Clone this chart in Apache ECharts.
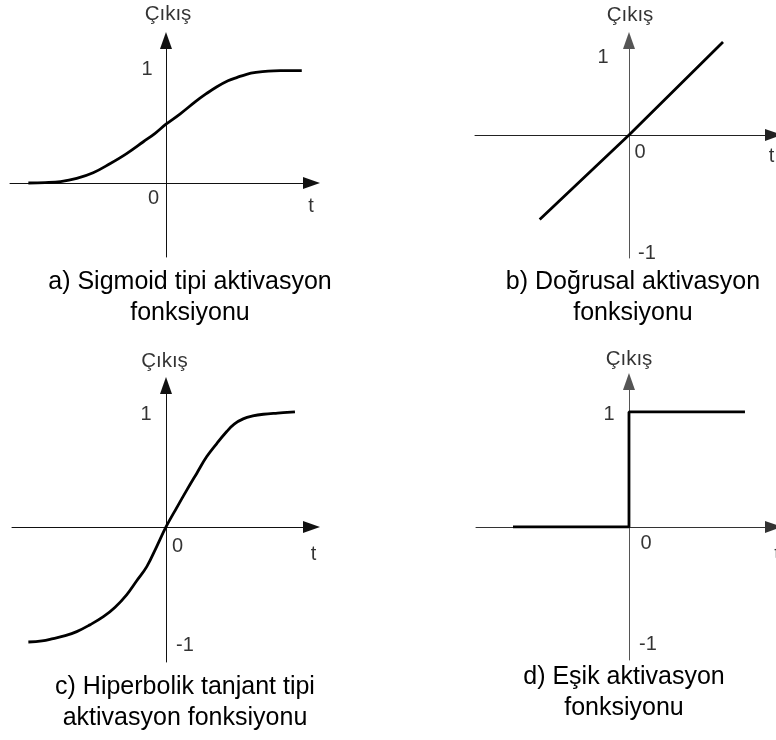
<!DOCTYPE html>
<html>
<head>
<meta charset="utf-8">
<script src="https://cdn.jsdelivr.net/npm/echarts@6/dist/echarts.min.js"></script>
<style>
  html, body { margin: 0; padding: 0; background: #fff; }
  #chart { width: 776px; height: 740px; }
</style>
</head>
<body>
<div id="chart"></div>
<script>
// a) sigmoid
const sigmoidT = [-4.44, -3.9, -3.4, -2.88, -2.35, -1.81, -1.27, -0.73, -0.35, 0, 0.45, 0.95, 1.3, 1.63, 2.0, 2.3, 2.6, 2.9, 3.3, 3.8, 4.38];
const sigmoidY = [0, 0.003, 0.012, 0.04, 0.09, 0.17, 0.26, 0.365, 0.44, 0.52, 0.61, 0.72, 0.79, 0.85, 0.905, 0.935, 0.962, 0.978, 0.99, 0.994, 0.995];
// b) doğrusal
const linearT = [-0.95, 0, 1];
const linearY = [-0.91, 0, 1];
// c) tanh
const tanhT = [-4.44, -4.0, -3.64, -3.25, -2.88, -2.45, -2.02, -1.65, -1.27, -0.95, -0.62, -0.3, 0, 0.33, 0.67, 1.0, 1.31, 1.65, 1.96, 2.2, 2.49, 2.8, 3.14, 3.6, 4.16];
const tanhY = [-1.0, -0.99, -0.97, -0.945, -0.91, -0.85, -0.78, -0.7, -0.59, -0.47, -0.345, -0.17, 0, 0.16, 0.32, 0.47, 0.61, 0.73, 0.83, 0.895, 0.94, 0.965, 0.98, 0.99, 1.0];
// d) eşik
const stepT = [-1, 0, 0, 1];
const stepY = [0, 0, 1, 1];

const captions = [
  'a) Sigmoid tipi aktivasyon\nfonksiyonu',
  'b) Doğrusal aktivasyon\nfonksiyonu',
  'c) Hiperbolik tanjant tipi\naktivasyon fonksiyonu',
  'd) Eşik aktivasyon\nfonksiyonu'
];
const yName = 'Çıkış';
const xName = 't';
// tick texts with the value they mark on the y axis
const yTicks = [
  [['1', 1], ['0', 0]],
  [['1', 1], ['0', 0], ['-1', -1]],
  [['1', 1], ['0', 0], ['-1', -1]],
  [['1', 1], ['0', 0], ['-1', -1]]
];

const font = "'Liberation Sans', Arial, sans-serif";

// layout of each panel (pixels) + label offsets
const panels = [
  { grid: { left: 10, top: 40.5, width: 301.5, height: 216.5 }, x: [-5.032, 4.694], y: [-0.655, 1.261],
    xColor: '#111', yColor: '#111', cap: [190, 266.5],
    off: { '1': [-19, -1], '0': [-12.5, 15.5], y: [2, -26.5], x: [-0.5, 23] } },
  { grid: { left: 475, top: 40.5, width: 298.5, height: 217.5 }, x: [-1.638, 1.537], y: [-1.323, 1.016],
    xColor: '#222', yColor: '#555', cap: [633, 266.5],
    off: { '1': [-26, 15.5], '0': [11, 18], '-1': [18, 25.5], y: [1, -25.5], x: [-2, 22] } },
  { grid: { left: 12, top: 385.5, width: 299.5, height: 276.5 }, x: [-4.968, 4.694], y: [-1.174, 1.23],
    xColor: '#111', yColor: '#111', cap: [185, 671.5],
    off: { '1': [-20, 2.5], '0': [11.5, 19.5], '-1': [19, 3], y: [-1.5, -24.5], x: [2, 28] } },
  { grid: { left: 476, top: 381.5, width: 297.5, height: 278.5 }, x: [-1.319, 1.246], y: [-1.157, 1.265],
    xColor: '#333', yColor: '#555', cap: [624, 661.5],
    off: { '1': [-20, 3], '0': [17, 16.5], '-1': [19, 3], y: [0, -22], x: [3.5, 28] } }
];

const curves = [
  sigmoidT.map((t, i) => [t, sigmoidY[i]]),
  linearT.map((t, i) => [t, linearY[i]]),
  tanhT.map((t, i) => [t, tanhY[i]]),
  stepT.map((t, i) => [t, stepY[i]])
];

const chart = echarts.init(document.getElementById('chart'));

const series = [];
panels.forEach((p, i) => {
  series.push({
    type: 'line',
    xAxisIndex: i,
    yAxisIndex: i,
    data: curves[i],
    smooth: (i === 0 || i === 2) ? 0.4 : false,
    showSymbol: false,
    silent: true,
    lineStyle: { color: '#000', width: 2.8 },
    z: 3
  });
  // text labels anchored on the axes
  const items = yTicks[i].map(([txt, v]) => ({
    value: [0, v],
    label: { formatter: txt, offset: p.off[txt] }
  }));
  items.push({ value: [0, p.y[1]], label: { formatter: yName, offset: p.off.y, fontSize: 20.5 } });
  items.push({ value: [p.x[1], 0], label: { formatter: xName, offset: p.off.x } });
  series.push({
    type: 'scatter',
    xAxisIndex: i,
    yAxisIndex: i,
    symbolSize: 1,
    silent: true,
    itemStyle: { color: 'rgba(0,0,0,0)' },
    label: {
      show: true,
      position: 'inside',
      color: '#000',
      fontSize: 20,
      fontFamily: font
    },
    data: items
  });
});

const option = {
  backgroundColor: '#fff',
  animation: false,
  title: panels.map((p, i) => ({
    text: captions[i],
    left: p.cap[0],
    top: p.cap[1],
    textAlign: 'center',
    padding: 0,
    textStyle: { fontSize: 25, fontWeight: 'normal', color: '#000', lineHeight: 31, fontFamily: font }
  })),
  grid: panels.map(p => p.grid),
  xAxis: panels.map((p, i) => ({
    gridIndex: i,
    type: 'value',
    min: p.x[0],
    max: p.x[1],
    axisLine: {
      onZero: true,
      symbol: ['none', 'triangle'],
      symbolSize: [12, 17],
      lineStyle: { color: p.xColor, width: 1 }
    },
    axisTick: { show: false },
    axisLabel: { show: false },
    splitLine: { show: false }
  })),
  yAxis: panels.map((p, i) => ({
    gridIndex: i,
    type: 'value',
    min: p.y[0],
    max: p.y[1],
    axisLine: {
      onZero: true,
      symbol: ['none', 'triangle'],
      symbolSize: [12, 17],
      lineStyle: { color: p.yColor, width: 1 }
    },
    axisTick: { show: false },
    axisLabel: { show: false },
    splitLine: { show: false }
  })),
  series: series
};

chart.setOption(option);
</script>
</body>
</html>
